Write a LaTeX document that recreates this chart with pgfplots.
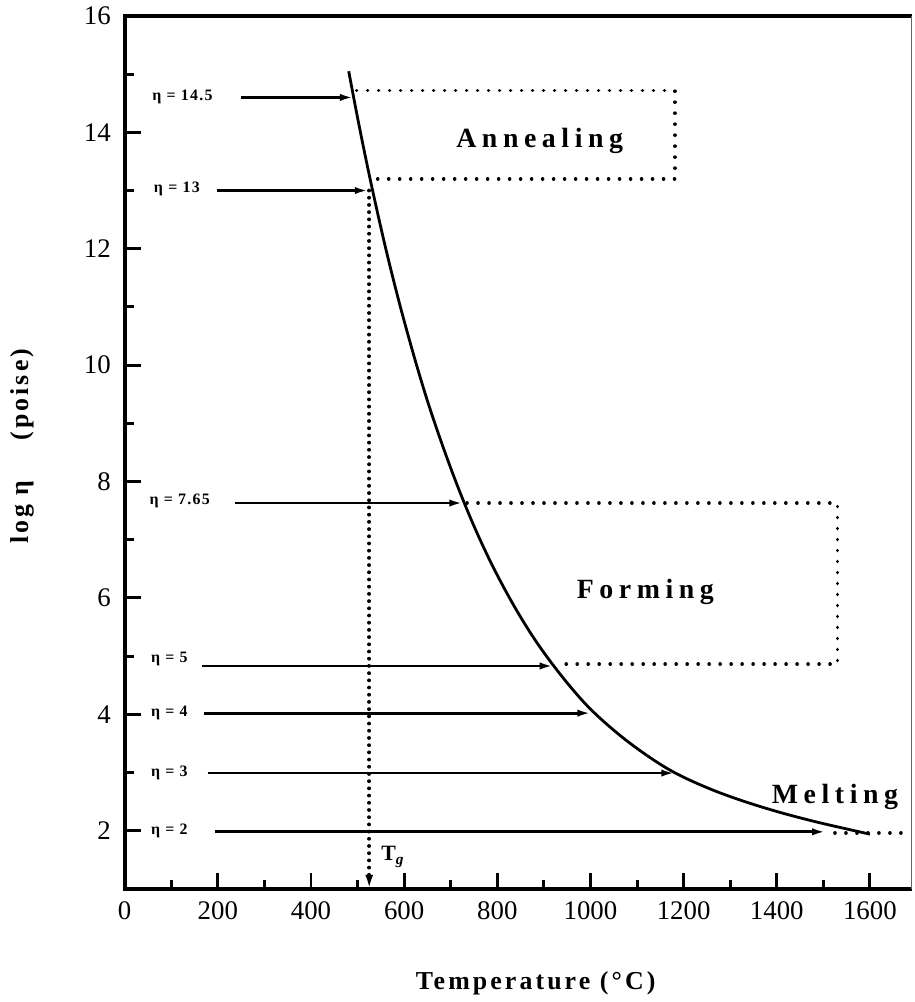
\documentclass[border=0pt]{standalone}
\usepackage{fontspec}
\setmainfont{Liberation Serif}
\newfontfamily\spaced[LetterSpace=20]{Liberation Serif}
\newfontfamily\lspaced[LetterSpace=12]{Liberation Serif}
\newfontfamily\espaced[LetterSpace=8]{Liberation Serif}
\usepackage{pgfplots}
\pgfplotsset{compat=1.18}
\usetikzlibrary{arrows.meta}
\tikzset{
  dots/.style={line width=1.8bp, dash pattern=on 0.01bp off 5.5bp, line cap=round},
  tgdots/.style={line width=1.9bp, dash pattern=on 0.01bp off 3.6bp, line cap=round},
  arr/.style={line width=1.4bp, -{Latex[length=7bp,width=3.6bp]}},
  elab/.style={font=\fontsize{8}{9}\espaced\bfseries},
  region/.style={font=\fontsize{14}{16}\spaced\bfseries},
}
\begin{document}
\begin{tikzpicture}
\begin{axis}[
  scale only axis, width=394.5bp, height=437.5bp,
  xmin=0, xmax=1690, ymin=1, ymax=16,
  axis line style={draw=none},
  tick align=inside, xtick pos=bottom, ytick pos=left,
  xtick={0,200,...,1600}, minor xtick={100,300,...,1500},
  ytick={2,4,...,16}, minor ytick={3,5,...,15},
  major tick length=8bp, minor tick length=4.5bp,
  every tick/.style={line width=1.5bp, black},
  clip=false,
  xticklabel style={font=\fontsize{13.5}{14}\selectfont, yshift=-3bp},
  yticklabel style={font=\fontsize{13.5}{14}\selectfont, xshift=-3.5bp},
  /pgf/number format/assume math mode=true,
  /pgf/number format/1000 sep={},
  xlabel={{\lspaced\bfseries Temperature (°C)}},
  xlabel style={at={(axis description cs:0.522,-0.1086)}, anchor=center, font=\fontsize{13}{15}\selectfont},
  ylabel={{\lspaced\bfseries log η\hspace{20bp}(poise)}},
  ylabel style={at={(axis description cs:-0.1305,0.507)}, anchor=center, font=\fontsize{13}{15}\selectfont},
]
% frame
\draw[line width=2.2bp, line join=miter] (rel axis cs:1,1) -- (rel axis cs:0,1) -- (rel axis cs:0,0) -- (rel axis cs:1,0);
\draw[line width=0.5bp, black!60] (rel axis cs:1,0) -- (rel axis cs:1,1);

% viscosity curve
\addplot[line width=1.4bp, smooth, tension=0.6] coordinates {
 (481,15.05) (500,14.25) (520,13.46) (540,12.72) (560,12.02) (580,11.37)
 (600,10.76) (630,9.91) (660,9.14) (700,8.23) (740,7.42) (780,6.71)
 (820,6.09) (860,5.54) (900,5.06) (950,4.54) (1000,4.09) (1060,3.66)
 (1120,3.30) (1180,3.00) (1250,2.74) (1320,2.53) (1400,2.33) (1480,2.16)
 (1550,2.03) (1600,1.94)
};

% annealing box
\addplot[dots] coordinates {(498,14.72) (1181,14.72) (1181,13.2) (541,13.2)};
% forming box
\addplot[dots] coordinates {(735,7.63) (1530,7.63) (1530,4.86) (930,4.86)};
% melting continuation
\addplot[dots] coordinates {(1525,1.96) (1688,1.96)};

% Tg line
\addplot[tgdots, -{Latex[length=7bp,width=4bp]}] coordinates {(525,13.0) (525,1.0)};
\node[anchor=west, font=\fontsize{11}{12}\selectfont\bfseries] at (axis cs:536,1.55) {T\textsubscript{\itshape g}};

% arrows
\addplot[arr] coordinates {(250,14.6) (492,14.6)};
\addplot[arr] coordinates {(199,13.0) (524,13.0)};
\addplot[arr] coordinates {(236,7.63) (727,7.63)};
\addplot[arr] coordinates {(165,4.83) (921,4.83)};
\addplot[arr] coordinates {(171,4.02) (1002,4.02)};
\addplot[arr] coordinates {(178,2.99) (1182,2.99)};
\addplot[arr] coordinates {(193,1.98) (1506,1.98)};

% eta labels
\node[elab] at (axis cs:124,14.6) {η = 14.5};
\node[elab] at (axis cs:112,13.02) {η = 13};
\node[elab] at (axis cs:118,7.66) {η = 7.65};
\node[elab] at (axis cs:96,4.95) {η = 5};
\node[elab] at (axis cs:96,4.02) {η = 4};
\node[elab] at (axis cs:96,3.0) {η = 3};
\node[elab] at (axis cs:96,2.0) {η = 2};

% region labels
\node[region] at (axis cs:891,13.86) {Annealing};
\node[region] at (axis cs:1118,6.11) {Forming};
\node[region] at (axis cs:1525,2.58) {Melting};
\end{axis}
\path (current axis.south west) ++(-62.5bp,-56bp);
\path (current axis.north east) ++(1bp,8bp);
\end{tikzpicture}
\end{document}
